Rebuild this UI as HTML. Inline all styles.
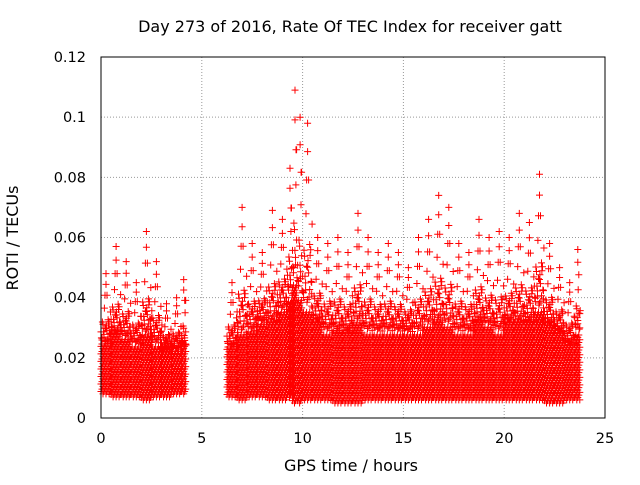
<!DOCTYPE html>
<html><head><meta charset="utf-8"><style>
body{margin:0;background:#fff}
svg text{font-family:"DejaVu Sans","Liberation Sans",sans-serif;font-size:14.5px;fill:#000}
svg text.big{font-size:16px}
</style></head><body>
<svg id="chart" width="640" height="480" xmlns="http://www.w3.org/2000/svg">
<rect width="640" height="480" fill="#fff"/>
<text class="big" x="350" y="32" text-anchor="middle">Day 273 of 2016, Rate Of TEC Index for receiver gatt</text>
<text class="big" transform="translate(18,238) rotate(-90)" text-anchor="middle">ROTI / TECUs</text>
<text class="big" x="351" y="471" text-anchor="middle">GPS time / hours</text>
<g id="grid"></g><g id="ticks"></g><g id="marks"></g>
<rect x="101" y="57" width="504" height="361" fill="none" stroke="#000" stroke-width="1"/>
</svg>
<script>
const xTicks=[0,5,10,15,20,25];
const yTicks=[0,0.02,0.04,0.06,0.08,0.1,0.12];
const yTickLabels=["0","0.02","0.04","0.06","0.08","0.1","0.12"];
const binTimes=[0,0.5,1,1.5,2,2.5,3,3.5,4,6.25,6.75,7.25,7.75,8.25,8.75,9.25,9.5,9.75,10,10.5,11,11.5,12,12.5,13,13.5,14,14.5,15,15.5,16,16.5,17,17.5,18,18.5,19,19.5,20,20.5,21,21.5,22,22.5,23,23.5];
const binEnds=[0.5,1,1.5,2,2.5,3,3.5,4,4.2,6.75,7.25,7.75,8.25,8.75,9.25,9.5,9.75,10,10.5,11,11.5,12,12.5,13,13.5,14,14.5,15,15.5,16,16.5,17,17.5,18,18.5,19,19.5,20,20.5,21,21.5,22,22.5,23,23.5,23.8];
const peakVals=[0.048,0.057,0.052,0.045,0.062,0.052,0.038,0.04,0.046,0.045,0.07,0.058,0.055,0.069,0.066,0.083,0.109,0.1,0.098,0.06,0.058,0.06,0.055,0.068,0.06,0.055,0.058,0.055,0.05,0.06,0.066,0.074,0.07,0.058,0.055,0.066,0.06,0.062,0.06,0.068,0.065,0.081,0.058,0.05,0.045,0.056];
const coreVals=[0.024,0.027,0.026,0.024,0.027,0.024,0.022,0.022,0.023,0.023,0.027,0.028,0.031,0.031,0.035,0.039,0.043,0.039,0.035,0.031,0.028,0.028,0.028,0.031,0.028,0.028,0.028,0.028,0.028,0.028,0.030,0.031,0.030,0.028,0.028,0.031,0.030,0.028,0.031,0.031,0.031,0.035,0.030,0.028,0.024,0.028];
const lowVals=[0.008,0.007,0.007,0.007,0.006,0.007,0.007,0.008,0.008,0.007,0.006,0.007,0.007,0.006,0.006,0.007,0.005,0.005,0.006,0.006,0.006,0.005,0.005,0.005,0.006,0.006,0.006,0.006,0.006,0.006,0.006,0.006,0.006,0.006,0.006,0.006,0.006,0.006,0.006,0.006,0.006,0.006,0.005,0.005,0.006,0.006];
const X=t=>101+t*504/25, Y=v=>418-v*361/0.12;
const NS="http://www.w3.org/2000/svg";
const grid=document.getElementById('grid'),ticks=document.getElementById('ticks'),marks=document.getElementById('marks');
xTicks.forEach(t=>{
  if(t>0&&t<25){const l=document.createElementNS(NS,'line');
  
  
  l.setAttribute('x1',X(t));l.setAttribute('x2',X(t));l.setAttribute('y1',57);l.setAttribute('y2',418);
  l.setAttribute('stroke','#999');l.setAttribute('stroke-dasharray','1,2');grid.appendChild(l);}
  const tx=document.createElementNS(NS,'text');
  
  
  tx.setAttribute('x',X(t));tx.setAttribute('y',443);tx.setAttribute('text-anchor','middle');tx.textContent=t;ticks.appendChild(tx);
});
yTicks.forEach((v,i)=>{
  if(v>0&&v<0.12){const l=document.createElementNS(NS,'line');
  
  
  l.setAttribute('x1',101);l.setAttribute('x2',605);l.setAttribute('y1',Y(v));l.setAttribute('y2',Y(v));
  l.setAttribute('stroke','#999');l.setAttribute('stroke-dasharray','1,2');grid.appendChild(l);}
  const tx=document.createElementNS(NS,'text');
  
  
  tx.setAttribute('x',86);tx.setAttribute('y',Y(v)+5);tx.setAttribute('text-anchor','end');tx.textContent=yTickLabels[i];ticks.appendChild(tx);
});
let d='';
const plus=(x,y)=>{d+=`M${(x-3.5).toFixed(1)} ${y.toFixed(1)}h7M${x.toFixed(1)} ${(y-3.5).toFixed(1)}v7`;};
const fr=[0.15,0.55,0.3,0.85,0.45,0.7,0.2,0.6,0.35,0.95,0.1,0.5];
binTimes.forEach((t0,i)=>{
  const t1=binEnds[i],lo=lowVals[i],core=coreVals[i],hi=peakVals[i];
  let k=0;
  for(let t=t0;t<t1;t+=0.05){
    k++;
    for(let v=lo;v<=core;v+=0.0025){plus(X(t),Y(v+((k%3)*0.0008)));}
    const f1=fr[k%12],f2=fr[(k+5)%12],f3=fr[(k+8)%12];
    plus(X(t),Y(core+(hi-core)*f1*0.35));
    plus(X(t+0.02),Y(core+(hi-core)*f2*0.55));
    if(k%2===0)plus(X(t),Y(core+(hi-core)*f3*0.8));
    if(k%5===0)plus(X(t),Y(core+(hi-core)*f1));
  }
  const tm=(t0+t1)/2;
  plus(X(tm),Y(hi));plus(X(tm),Y(hi-(hi-core)*0.15));plus(X(tm+0.05),Y(hi-(hi-core)*0.3));
});
const p=document.createElementNS(NS,'path');


p.setAttribute('d',d);p.setAttribute('stroke','#f00');p.setAttribute('stroke-width','1');p.setAttribute('fill','none');
marks.appendChild(p);
</script>
</body></html>
